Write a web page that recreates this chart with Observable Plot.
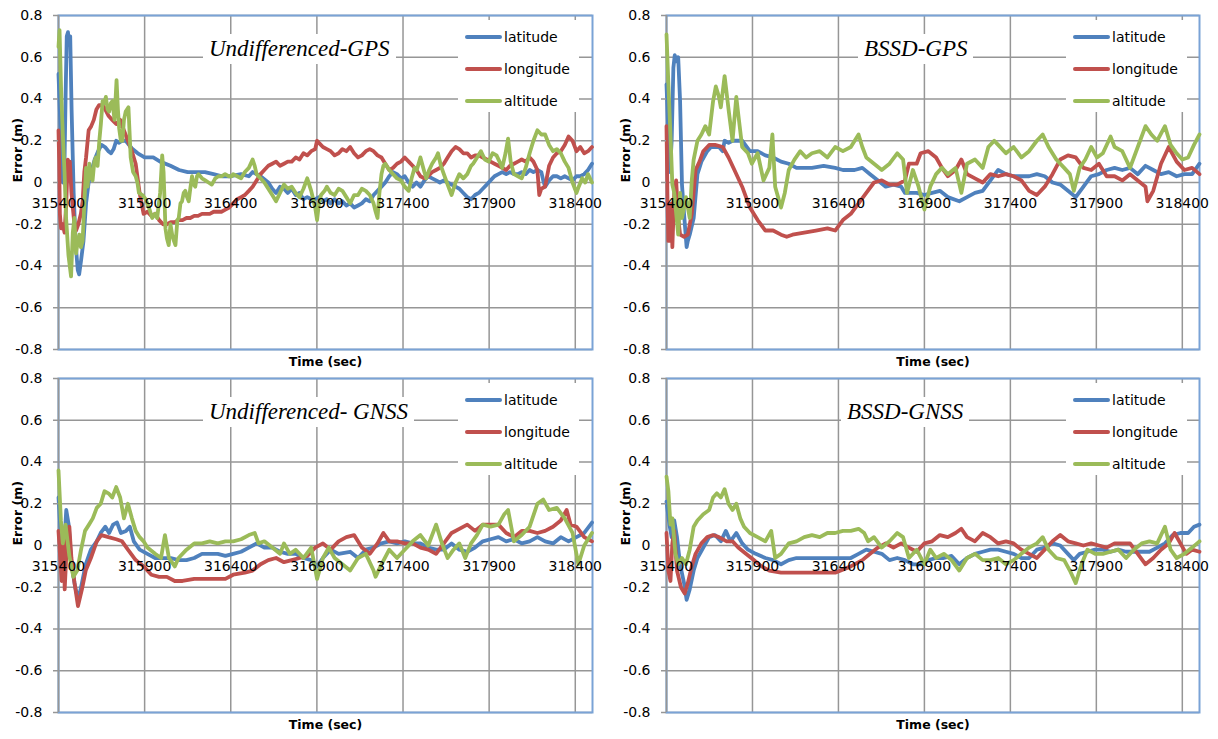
<!DOCTYPE html>
<html>
<head>
<meta charset="utf-8">
<script src="https://cdn.jsdelivr.net/npm/d3@7"></script>
<script src="https://cdn.jsdelivr.net/npm/@observablehq/plot@0.6"></script>
<style>
  html, body { margin: 0; padding: 0; background: #fff; }
  #root { position: relative; width: 1218px; height: 739px; background: #fff; overflow: hidden; }
  .panel { position: absolute; }
  .panel svg { display: block; }
  .ptitle { position: absolute; background: #fff; font-family: "Liberation Serif", serif; font-style: italic;
            font-size: 23px; line-height: 30px; height: 30px; padding: 0 6px; white-space: pre; color: #000; }
  .plegend { position: absolute; background: #fff; width: 121px; height: 92px; padding-top: 1px; box-sizing: border-box;
             font-family: "DejaVu Sans", sans-serif; font-size: 14px; color: #000; }
  .prow { height: 32px; display: flex; align-items: center; }
  .pswatch { width: 37px; height: 4px; border-radius: 2px; margin-left: 7px; margin-right: 2px; }
</style>
</head>
<body>
<div id="root"></div>
<script>
// ---------------- data ----------------
const series = ["latitude", "longitude", "altitude"];
const seriesColors = ["#4F81BD", "#C0504D", "#9BBB59"];
const titles = ["Undifferenced-GPS", "BSSD-GPS", "Undifferenced- GNSS", "BSSD-GNSS"];
const xTicks = [315400, 315900, 316400, 316900, 317400, 317900, 318400];
const yTicks = [-0.8, -0.6, -0.4, -0.2, 0, 0.2, 0.4, 0.6, 0.8];
const xDomain = [315400, 318500];
const xLabel = "Time (sec)";
const yLabel = "Error (m)";

// Undifferenced-GPS
const ugpsLat = [[315400,0.52],[315412,0.25],[315425,0.0],[315435,0.1],[315442,0.45],[315448,0.70],[315455,0.72],[315462,0.66],[315468,0.70],[315476,0.35],[315488,-0.05],[315500,-0.3],[315512,-0.42],[315520,-0.44],[315530,-0.38],[315545,-0.28],[315560,-0.1],[315575,0.0],[315590,0.05],[315610,0.11],[315630,0.15],[315650,0.18],[315670,0.17],[315690,0.15],[315705,0.14],[315720,0.16],[315735,0.2],[315750,0.19],[315770,0.2],[315790,0.2],[315810,0.18],[315830,0.16],[315860,0.14],[315900,0.12],[315950,0.12],[315990,0.1],[316050,0.08],[316100,0.06],[316150,0.05],[316200,0.05],[316250,0.05],[316300,0.04],[316350,0.03],[316400,0.03],[316460,0.04],[316505,0.03],[316527,0.05],[316573,0.03],[316618,0.0],[316641,-0.03],[316663,-0.05],[316686,-0.02],[316709,-0.03],[316731,-0.05],[316754,-0.03],[316777,-0.06],[316799,-0.05],[316822,-0.08],[316844,-0.07],[316867,-0.08],[316890,-0.08],[316912,-0.07],[316935,-0.09],[316958,-0.08],[316980,-0.1],[317003,-0.08],[317026,-0.1],[317048,-0.09],[317071,-0.11],[317093,-0.1],[317116,-0.12],[317139,-0.11],[317161,-0.1],[317184,-0.08],[317207,-0.09],[317229,-0.06],[317252,-0.04],[317275,-0.02],[317297,0.0],[317320,0.03],[317342,0.05],[317365,0.04],[317388,0.02],[317410,0.03],[317433,0.0],[317456,-0.02],[317478,0.0],[317501,-0.02],[317524,0.01],[317546,0.03],[317569,0.02],[317592,0.01],[317614,0.0],[317637,0.01],[317659,0.0],[317682,-0.01],[317705,-0.02],[317727,-0.03],[317750,-0.05],[317773,-0.07],[317795,-0.08],[317818,-0.06],[317840,-0.05],[317863,-0.03],[317886,-0.01],[317908,0.01],[317931,0.03],[317954,0.04],[317976,0.05],[317999,0.04],[318021,0.05],[318044,0.04],[318067,0.04],[318089,0.05],[318112,0.04],[318135,0.06],[318157,0.05],[318180,0.06],[318203,0.05],[318214,0.01],[318225,-0.02],[318248,0.01],[318271,0.03],[318293,0.03],[318316,0.02],[318339,0.03],[318361,0.02],[318384,0.01],[318407,0.03],[318429,0.03],[318452,0.04],[318474,0.06],[318497,0.09]];
const ugpsLon = [[315400,0.25],[315404,0.1],[315408,-0.15],[315415,-0.22],[315425,-0.2],[315435,-0.24],[315445,-0.1],[315454,0.11],[315460,0.05],[315466,0.1],[315475,-0.05],[315490,-0.18],[315502,-0.23],[315515,-0.2],[315530,-0.15],[315540,-0.09],[315550,0.05],[315560,0.12],[315575,0.25],[315590,0.27],[315605,0.3],[315620,0.35],[315635,0.37],[315650,0.37],[315665,0.36],[315690,0.32],[315712,0.3],[315735,0.28],[315758,0.3],[315780,0.25],[315803,0.2],[315826,0.15],[315848,0.09],[315871,-0.05],[315894,-0.15],[315916,-0.14],[315939,-0.16],[315961,-0.15],[315984,-0.18],[316007,-0.2],[316029,-0.2],[316052,-0.19],[316075,-0.19],[316097,-0.18],[316120,-0.18],[316143,-0.17],[316165,-0.17],[316188,-0.16],[316210,-0.16],[316233,-0.15],[316256,-0.15],[316278,-0.15],[316301,-0.14],[316324,-0.14],[316346,-0.14],[316369,-0.13],[316391,-0.12],[316414,-0.1],[316437,-0.08],[316460,-0.07],[316482,-0.06],[316505,-0.04],[316527,-0.02],[316550,0.01],[316573,0.04],[316595,0.06],[316618,0.08],[316641,0.09],[316663,0.1],[316686,0.08],[316709,0.09],[316731,0.1],[316754,0.1],[316777,0.12],[316799,0.11],[316822,0.14],[316844,0.13],[316867,0.15],[316890,0.16],[316901,0.2],[316912,0.19],[316935,0.17],[316958,0.16],[316980,0.15],[317003,0.13],[317026,0.14],[317048,0.16],[317071,0.15],[317093,0.17],[317116,0.14],[317139,0.12],[317161,0.13],[317184,0.15],[317207,0.16],[317229,0.15],[317252,0.13],[317275,0.12],[317297,0.09],[317320,0.06],[317342,0.07],[317365,0.09],[317388,0.1],[317410,0.12],[317433,0.1],[317456,0.08],[317478,0.06],[317501,0.03],[317524,0.02],[317546,0.03],[317569,0.05],[317592,0.06],[317614,0.07],[317637,0.09],[317659,0.12],[317682,0.15],[317705,0.17],[317727,0.16],[317750,0.14],[317773,0.14],[317795,0.12],[317818,0.13],[317840,0.13],[317863,0.12],[317886,0.11],[317908,0.1],[317931,0.09],[317954,0.08],[317976,0.07],[317999,0.06],[318021,0.08],[318044,0.09],[318067,0.1],[318089,0.11],[318112,0.1],[318135,0.12],[318157,0.1],[318180,0.06],[318191,-0.06],[318203,-0.03],[318225,-0.02],[318248,0.08],[318271,0.12],[318293,0.14],[318316,0.15],[318339,0.18],[318361,0.22],[318384,0.2],[318407,0.15],[318429,0.17],[318452,0.14],[318474,0.15],[318497,0.17]];
const ugpsAlt = [[315400,0.65],[315406,0.73],[315415,0.45],[315425,0.23],[315435,0.05],[315444,-0.17],[315458,-0.35],[315473,-0.45],[315483,-0.24],[315492,-0.17],[315502,-0.34],[315512,-0.28],[315521,-0.25],[315530,-0.31],[315540,-0.28],[315550,-0.1],[315560,0.07],[315569,-0.02],[315579,0.09],[315590,0.02],[315598,0.01],[315608,0.1],[315617,0.12],[315627,0.08],[315637,0.2],[315646,0.28],[315656,0.39],[315665,0.38],[315675,0.41],[315685,0.35],[315694,0.34],[315704,0.38],[315713,0.39],[315725,0.3],[315737,0.49],[315745,0.35],[315752,0.26],[315762,0.2],[315771,0.2],[315780,0.3],[315790,0.34],[315806,0.36],[315812,0.25],[315819,0.12],[315833,0.05],[315848,0.03],[315858,0.0],[315867,-0.05],[315887,-0.06],[315906,-0.08],[315925,-0.12],[315944,-0.17],[315960,-0.15],[315973,-0.17],[315990,-0.05],[316002,0.13],[316010,0.05],[316021,-0.22],[316030,-0.27],[316040,-0.3],[316050,-0.2],[316060,-0.25],[316070,-0.28],[316079,-0.3],[316090,-0.18],[316098,-0.17],[316108,-0.1],[316117,-0.09],[316127,-0.05],[316136,-0.04],[316146,-0.07],[316156,-0.09],[316165,-0.03],[316175,0.03],[316185,-0.01],[316194,-0.02],[316204,0.03],[316213,0.04],[316233,0.02],[316252,0.01],[316271,0.0],[316290,-0.01],[316310,0.02],[316329,0.03],[316348,0.03],[316367,0.04],[316387,0.03],[316406,0.03],[316414,0.04],[316437,0.03],[316460,0.02],[316482,0.05],[316505,0.07],[316527,0.11],[316539,0.08],[316550,0.04],[316573,0.02],[316595,0.0],[316618,-0.03],[316641,-0.06],[316663,-0.09],[316686,-0.05],[316709,-0.01],[316731,-0.03],[316754,-0.02],[316777,-0.05],[316799,-0.07],[316822,-0.03],[316844,0.02],[316867,-0.04],[316890,-0.12],[316901,-0.18],[316912,-0.1],[316924,-0.06],[316945,-0.04],[316958,-0.02],[316980,-0.05],[317003,-0.06],[317026,-0.03],[317048,-0.04],[317071,-0.07],[317093,-0.1],[317116,-0.06],[317139,-0.06],[317161,-0.03],[317184,-0.04],[317207,-0.06],[317229,-0.1],[317241,-0.14],[317252,-0.17],[317263,-0.05],[317275,0.04],[317286,0.08],[317297,0.09],[317320,0.06],[317342,0.04],[317365,0.02],[317388,0.01],[317410,-0.02],[317433,-0.04],[317450,0.02],[317467,0.07],[317480,0.06],[317501,0.12],[317524,0.05],[317535,0.02],[317552,0.06],[317569,0.09],[317592,0.12],[317603,0.14],[317620,0.08],[317637,0.04],[317659,-0.01],[317682,-0.06],[317705,0.0],[317727,0.04],[317750,0.02],[317773,0.04],[317795,0.08],[317807,0.09],[317830,0.12],[317852,0.15],[317875,0.11],[317897,0.1],[317920,0.14],[317943,0.13],[317960,0.1],[317976,0.07],[317995,0.14],[318010,0.21],[318025,0.1],[318044,0.04],[318067,0.03],[318089,0.02],[318112,0.07],[318135,0.14],[318157,0.2],[318180,0.25],[318203,0.23],[318225,0.23],[318248,0.18],[318271,0.15],[318293,0.16],[318316,0.14],[318339,0.1],[318361,0.07],[318384,0.0],[318407,-0.05],[318420,-0.02],[318440,0.02],[318458,0.0],[318474,0.04],[318497,0.0]];

// BSSD-GPS
const bgpsLat = [[315400,0.47],[315411,0.23],[315420,0.05],[315430,0.2],[315440,0.55],[315448,0.61],[315458,0.58],[315468,0.6],[315479,0.39],[315490,-0.01],[315502,-0.15],[315517,-0.31],[315524,-0.28],[315535,-0.25],[315558,-0.17],[315580,0.04],[315603,0.1],[315637,0.15],[315659,0.17],[315682,0.17],[315705,0.17],[315727,0.15],[315738,0.2],[315761,0.19],[315784,0.2],[315806,0.2],[315840,0.2],[315885,0.15],[315930,0.15],[315975,0.13],[316020,0.12],[316066,0.1],[316111,0.09],[316156,0.07],[316246,0.07],[316314,0.08],[316381,0.07],[316426,0.06],[316494,0.06],[316539,0.07],[316584,0.04],[316630,0.01],[316675,-0.02],[316720,-0.01],[316765,-0.02],[316787,-0.05],[316855,-0.05],[316900,-0.06],[316945,-0.05],[316990,-0.04],[317036,-0.07],[317103,-0.09],[317148,-0.07],[317194,-0.05],[317239,-0.04],[317284,0.01],[317329,0.06],[317374,0.04],[317419,0.03],[317464,0.03],[317509,0.03],[317554,0.04],[317600,0.03],[317645,0.0],[317690,-0.01],[317735,-0.04],[317780,-0.07],[317825,-0.02],[317870,0.03],[317915,0.04],[317960,0.06],[318006,0.07],[318051,0.06],[318096,0.07],[318141,0.04],[318186,0.08],[318231,0.06],[318276,0.04],[318321,0.05],[318367,0.03],[318412,0.04],[318457,0.04],[318500,0.09]];
const bgpsLon = [[315400,0.27],[315406,-0.1],[315411,-0.28],[315417,-0.28],[315423,-0.27],[315428,-0.1],[315434,-0.31],[315445,-0.05],[315456,0.01],[315468,-0.17],[315479,-0.25],[315502,-0.26],[315524,-0.25],[315547,-0.15],[315569,0.06],[315592,0.1],[315614,0.15],[315648,0.18],[315682,0.18],[315727,0.17],[315761,0.12],[315795,0.06],[315840,-0.02],[315885,-0.12],[315930,-0.18],[315975,-0.23],[316020,-0.23],[316066,-0.25],[316099,-0.26],[316133,-0.25],[316201,-0.24],[316269,-0.23],[316336,-0.22],[316381,-0.23],[316426,-0.18],[316472,-0.15],[316517,-0.1],[316562,-0.05],[316607,0.0],[316652,0.01],[316697,-0.01],[316742,-0.01],[316787,0.01],[316810,0.09],[316855,0.09],[316878,0.14],[316923,0.15],[316968,0.12],[317002,0.07],[317036,0.03],[317081,0.06],[317115,0.11],[317148,0.04],[317194,0.02],[317239,0.0],[317284,0.04],[317329,0.03],[317374,0.04],[317419,0.03],[317464,0.01],[317509,-0.04],[317554,-0.06],[317600,-0.02],[317645,0.04],[317690,0.11],[317735,0.13],[317780,0.12],[317825,0.07],[317870,0.06],[317915,0.09],[317960,0.03],[318006,0.03],[318051,0.01],[318096,0.04],[318141,0.01],[318186,-0.02],[318197,-0.09],[318231,-0.04],[318276,0.09],[318321,0.17],[318367,0.1],[318412,0.06],[318457,0.07],[318500,0.04]];
const bgpsAlt = [[315400,0.71],[315411,0.47],[315423,0.23],[315434,-0.01],[315445,-0.05],[315468,-0.25],[315479,-0.05],[315490,-0.17],[315513,-0.07],[315535,-0.17],[315547,0.01],[315558,0.11],[315580,0.2],[315603,0.23],[315626,0.27],[315648,0.23],[315671,0.39],[315687,0.46],[315705,0.41],[315716,0.36],[315738,0.51],[315761,0.35],[315784,0.2],[315806,0.41],[315817,0.33],[315840,0.17],[315874,0.14],[315896,0.09],[315930,0.14],[315964,0.01],[315998,0.07],[316016,0.23],[316032,-0.02],[316066,-0.12],[316088,-0.05],[316111,0.06],[316144,0.11],[316178,0.15],[316212,0.12],[316246,0.14],[316291,0.15],[316336,0.12],[316381,0.17],[316426,0.15],[316472,0.17],[316517,0.23],[316539,0.17],[316562,0.12],[316607,0.09],[316652,0.06],[316697,0.09],[316742,0.14],[316776,0.11],[316799,-0.05],[316833,0.06],[316866,-0.02],[316900,-0.13],[316934,-0.02],[316968,0.04],[317002,0.07],[317036,0.04],[317081,0.07],[317115,-0.05],[317148,0.09],[317194,0.11],[317239,0.07],[317272,0.17],[317306,0.2],[317329,0.18],[317374,0.14],[317419,0.17],[317464,0.12],[317509,0.15],[317554,0.2],[317588,0.23],[317622,0.17],[317667,0.11],[317713,0.07],[317746,0.04],[317769,-0.04],[317803,0.07],[317836,0.11],[317870,0.17],[317904,0.12],[317938,0.14],[317983,0.22],[318006,0.17],[318051,0.15],[318096,0.07],[318141,0.17],[318186,0.27],[318220,0.23],[318254,0.2],[318299,0.27],[318332,0.18],[318367,0.14],[318400,0.11],[318434,0.12],[318468,0.18],[318500,0.23]];

// Undifferenced-GNSS
const ugnssLat = [[315400,0.23],[315414,0.04],[315429,-0.06],[315445,0.17],[315459,0.1],[315475,-0.09],[315497,-0.2],[315515,-0.26],[315536,-0.18],[315558,-0.09],[315588,-0.02],[315622,0.02],[315645,0.06],[315672,0.09],[315694,0.06],[315717,0.1],[315740,0.11],[315762,0.06],[315792,0.07],[315814,0.09],[315837,0.02],[315871,-0.02],[315916,-0.04],[315961,-0.06],[316007,-0.06],[316052,-0.06],[316097,-0.07],[316143,-0.07],[316188,-0.06],[316233,-0.04],[316278,-0.04],[316324,-0.04],[316369,-0.05],[316414,-0.04],[316460,-0.03],[316505,-0.01],[316550,0.01],[316595,-0.01],[316641,-0.01],[316686,-0.03],[316731,-0.04],[316777,-0.04],[316822,-0.06],[316867,-0.07],[316901,-0.1],[316935,-0.06],[316980,-0.02],[317026,-0.04],[317093,-0.03],[317139,-0.06],[317184,-0.02],[317229,-0.01],[317275,0.01],[317320,0.02],[317365,0.01],[317410,0.02],[317456,0.01],[317501,0.01],[317546,-0.01],[317592,-0.02],[317637,-0.02],[317682,0.01],[317727,-0.02],[317773,-0.03],[317818,-0.01],[317863,0.02],[317908,0.03],[317954,0.04],[317999,0.02],[318044,0.03],[318089,0.01],[318135,0.02],[318180,0.04],[318225,0.02],[318271,0.01],[318316,0.04],[318361,0.02],[318407,0.04],[318452,0.06],[318497,0.11]];
const ugnssLon = [[315400,0.07],[315418,-0.17],[315429,0.04],[315436,-0.21],[315452,0.07],[315463,0.09],[315475,-0.06],[315493,-0.18],[315513,-0.29],[315536,-0.21],[315558,-0.12],[315588,-0.06],[315622,0.02],[315649,0.05],[315690,0.04],[315735,0.03],[315769,0.02],[315803,-0.02],[315848,-0.07],[315894,-0.1],[315939,-0.14],[315984,-0.15],[316029,-0.15],[316075,-0.17],[316120,-0.17],[316188,-0.16],[316256,-0.16],[316324,-0.16],[316369,-0.16],[316414,-0.14],[316482,-0.13],[316527,-0.12],[316573,-0.09],[316618,-0.07],[316663,-0.06],[316709,-0.08],[316754,-0.07],[316799,-0.06],[316844,-0.05],[316890,-0.01],[316935,0.01],[316980,-0.02],[317026,0.02],[317071,0.04],[317116,0.05],[317161,-0.01],[317207,-0.04],[317252,0.01],[317286,0.06],[317320,0.02],[317365,0.02],[317410,0.01],[317456,0.01],[317501,-0.01],[317546,-0.02],[317592,-0.04],[317637,0.01],[317682,0.06],[317727,0.08],[317773,0.1],[317818,0.07],[317863,0.1],[317908,0.1],[317954,0.1],[317999,0.06],[318044,0.04],[318089,0.07],[318135,0.07],[318180,0.06],[318225,0.07],[318271,0.09],[318316,0.12],[318350,0.17],[318373,0.1],[318407,0.09],[318452,0.04],[318497,0.02]];
const ugnssAlt = [[315400,0.36],[315414,0.12],[315425,0.01],[315441,0.1],[315463,-0.05],[315486,-0.15],[315509,-0.12],[315531,-0.02],[315554,0.07],[315577,0.1],[315599,0.13],[315622,0.18],[315645,0.2],[315667,0.26],[315690,0.25],[315712,0.23],[315735,0.28],[315758,0.23],[315780,0.13],[315803,0.2],[315826,0.13],[315848,0.07],[315871,0.04],[315894,0.02],[315916,-0.01],[315961,-0.04],[315995,-0.06],[316018,0.05],[316041,-0.06],[316075,-0.1],[316097,-0.06],[316143,-0.02],[316188,0.01],[316233,0.01],[316278,0.02],[316324,0.01],[316369,0.02],[316414,0.02],[316460,0.03],[316505,0.05],[316539,0.06],[316561,0.01],[316595,0.02],[316641,-0.01],[316686,-0.04],[316709,0.01],[316743,-0.04],[316777,-0.02],[316822,-0.06],[316867,-0.01],[316901,-0.16],[316935,-0.06],[316969,-0.01],[317003,-0.06],[317048,-0.09],[317093,-0.12],[317139,-0.06],[317184,-0.04],[317229,-0.12],[317241,-0.15],[317275,-0.09],[317320,-0.02],[317365,-0.06],[317410,-0.02],[317456,0.02],[317501,0.05],[317546,0.0],[317592,0.1],[317626,0.01],[317659,-0.06],[317693,-0.02],[317727,0.01],[317761,-0.06],[317795,0.01],[317829,0.05],[317863,0.1],[317908,0.09],[317954,0.1],[317988,0.15],[318010,0.17],[318044,0.02],[318089,0.05],[318135,0.09],[318180,0.2],[318214,0.22],[318248,0.17],[318293,0.18],[318339,0.13],[318384,0.06],[318418,-0.09],[318452,0.0],[318497,0.06]];

// BSSD-GNSS
const bgnssLat = [[315400,0.21],[315417,0.1],[315430,0.04],[315445,0.12],[315461,0.04],[315479,-0.09],[315502,-0.18],[315517,-0.26],[315535,-0.21],[315558,-0.12],[315580,-0.06],[315614,-0.01],[315648,0.04],[315682,0.05],[315716,0.02],[315745,0.07],[315772,0.02],[315806,0.06],[315840,0.01],[315874,-0.02],[315919,-0.04],[315975,-0.06],[316020,-0.07],[316066,-0.09],[316111,-0.07],[316156,-0.06],[316201,-0.06],[316246,-0.06],[316291,-0.06],[316336,-0.06],[316381,-0.06],[316426,-0.06],[316472,-0.06],[316517,-0.04],[316562,-0.02],[316607,-0.03],[316652,-0.04],[316697,-0.07],[316742,-0.06],[316787,-0.07],[316833,-0.09],[316878,-0.09],[316923,-0.07],[316968,-0.06],[317013,-0.06],[317058,-0.05],[317103,-0.09],[317148,-0.06],[317194,-0.04],[317239,-0.03],[317284,-0.02],[317329,-0.02],[317374,-0.03],[317419,-0.04],[317464,-0.06],[317509,-0.06],[317554,-0.02],[317600,-0.01],[317645,0.01],[317690,0.0],[317735,-0.04],[317769,-0.07],[317803,-0.04],[317848,-0.03],[317893,-0.02],[317938,-0.02],[317983,-0.03],[318028,-0.02],[318073,-0.03],[318118,-0.03],[318164,-0.03],[318209,-0.03],[318254,-0.01],[318299,0.01],[318344,0.05],[318389,0.06],[318434,0.06],[318468,0.09],[318500,0.1]];
const bgnssLon = [[315400,0.06],[315411,-0.12],[315423,-0.17],[315434,0.01],[315445,0.07],[315461,-0.12],[315484,-0.2],[315506,-0.23],[315524,-0.18],[315547,-0.1],[315569,-0.04],[315603,0.01],[315637,0.04],[315671,0.05],[315705,0.04],[315750,0.02],[315784,0.02],[315817,-0.01],[315862,-0.04],[315908,-0.07],[315953,-0.1],[315998,-0.12],[316066,-0.13],[316133,-0.13],[316201,-0.13],[316291,-0.13],[316381,-0.13],[316472,-0.1],[316539,-0.07],[316584,-0.04],[316630,-0.01],[316675,0.01],[316720,-0.01],[316765,0.01],[316810,-0.01],[316855,-0.03],[316900,0.01],[316945,0.02],[316990,0.05],[317036,0.04],[317081,0.06],[317115,0.08],[317148,0.04],[317194,0.02],[317239,0.06],[317284,0.04],[317329,0.01],[317374,0.02],[317419,0.01],[317464,-0.02],[317509,-0.04],[317554,-0.06],[317600,-0.02],[317645,0.02],[317690,0.05],[317735,0.02],[317780,0.01],[317825,0.0],[317870,0.01],[317915,0.0],[317960,-0.01],[318006,0.01],[318051,0.01],[318096,0.01],[318141,-0.04],[318186,-0.09],[318231,-0.06],[318276,-0.02],[318321,0.01],[318355,0.06],[318389,0.01],[318423,-0.04],[318457,-0.02],[318500,-0.03]];
const bgnssAlt = [[315400,0.33],[315411,0.26],[315423,0.1],[315434,0.13],[315452,-0.04],[315468,-0.09],[315490,-0.06],[315513,-0.09],[315535,-0.02],[315558,0.09],[315580,0.12],[315614,0.15],[315648,0.17],[315671,0.23],[315693,0.25],[315716,0.23],[315738,0.27],[315761,0.2],[315784,0.17],[315806,0.2],[315829,0.13],[315851,0.09],[315885,0.06],[315930,0.04],[315975,0.02],[316009,0.07],[316032,-0.06],[316066,-0.04],[316111,0.01],[316156,0.02],[316201,0.04],[316246,0.05],[316291,0.04],[316336,0.06],[316381,0.06],[316426,0.07],[316472,0.07],[316517,0.08],[316550,0.06],[316573,0.02],[316607,0.04],[316652,-0.01],[316697,0.02],[316742,0.06],[316776,0.04],[316810,-0.06],[316855,-0.02],[316900,-0.09],[316934,-0.02],[316968,-0.06],[317013,-0.04],[317058,-0.07],[317103,-0.12],[317148,-0.06],[317194,-0.04],[317239,-0.07],[317284,-0.07],[317329,-0.06],[317374,-0.09],[317419,-0.07],[317464,-0.04],[317509,-0.01],[317554,0.01],[317588,0.04],[317622,-0.02],[317667,-0.06],[317713,-0.07],[317746,-0.12],[317780,-0.18],[317814,-0.09],[317848,-0.02],[317893,-0.04],[317938,-0.04],[317983,-0.03],[318028,-0.02],[318073,-0.06],[318118,-0.02],[318164,0.01],[318209,0.02],[318254,0.01],[318299,0.09],[318332,-0.02],[318367,-0.06],[318412,-0.04],[318457,-0.01],[318500,0.02]];

const panelSeries = [
  [ugpsLat, ugpsLon, ugpsAlt],
  [bgpsLat, bgpsLon, bgpsAlt],
  [ugnssLat, ugnssLon, ugnssAlt],
  [bgnssLat, bgnssLon, bgnssAlt]
];

// ---------------- layout ----------------
const layout = [
  {left: 0,   top: 0,   height: 369, mt: 15, mb: 20, ml: 58, mr: 17, titleLeft: 203},
  {left: 609, top: 0,   height: 369, mt: 15, mb: 20, ml: 57, mr: 19, titleLeft: 249},
  {left: 0,   top: 369, height: 370, mt: 9,  mb: 27, ml: 58, mr: 17, titleLeft: 203},
  {left: 609, top: 369, height: 370, mt: 9,  mb: 27, ml: 57, mr: 19, titleLeft: 232}
];

const root = document.getElementById("root");
const grey = "#969696";
const fmt = d => d === 0 ? "0" : d.toFixed(1);

layout.forEach((L, i) => {
  const data = [];
  panelSeries[i].forEach((arr, k) => arr.forEach(([t, v]) => data.push({t, v, s: series[k]})));

  const chart = Plot.plot({
    width: 609,
    height: L.height,
    marginTop: L.mt, marginBottom: L.mb, marginLeft: L.ml, marginRight: L.mr,
    style: {fontFamily: "DejaVu Sans, sans-serif", fontSize: "14px", background: "#fff", color: "#000", overflow: "visible"},
    x: {domain: xDomain, axis: null},
    y: {domain: [-0.8, 0.8]},
    color: {domain: series, range: seriesColors},
    marks: [
      Plot.gridX(xTicks, {stroke: grey, strokeOpacity: 1, strokeWidth: 1.5}),
      Plot.gridY(yTicks, {stroke: grey, strokeOpacity: 1, strokeWidth: 1.5}),
      Plot.frame({stroke: "#7aa3d6", strokeWidth: 2}),
      Plot.ruleX([xDomain[0]], {stroke: grey, strokeWidth: 1.5}),
      Plot.line(data, {x: "t", y: "v", z: "s", stroke: "s", strokeWidth: 3.8, strokeLinejoin: "round", strokeLinecap: "round"}),
      Plot.axisY({ticks: yTicks, tickSize: 5, tickFormat: () => "", stroke: grey, strokeWidth: 1.5, label: null}),
      Plot.text(yTicks, {frameAnchor: "left", y: d => d, dx: -16, textAnchor: "end", text: fmt, fill: "#000", fontSize: 14}),
      Plot.text(xTicks, {x: d => d, y: 0, dy: 21, text: d => String(d), fill: "#000", fontSize: 14, lineAnchor: "middle"}),
      Plot.text([xLabel], {frameAnchor: "bottom", dy: 12, lineAnchor: "middle", fontWeight: "bold", fontSize: 12.5, fill: "#000"}),
      Plot.text([yLabel], {frameAnchor: "left", dx: -41, rotate: -90, fontWeight: "bold", fontSize: 12.5, fill: "#000"})
    ]
  });

  const wrap = document.createElement("div");
  wrap.className = "panel";
  wrap.style.left = L.left + "px";
  wrap.style.top = L.top + "px";
  wrap.style.width = "609px";
  wrap.style.height = L.height + "px";
  wrap.appendChild(chart);

  const title = document.createElement("div");
  title.className = "ptitle";
  title.textContent = titles[i];
  title.style.left = L.titleLeft + "px";
  title.style.top = (L.mt + 19) + "px";
  wrap.appendChild(title);

  const legend = document.createElement("div");
  legend.className = "plegend";
  legend.style.left = (L.ml + 400) + "px";
  legend.style.top = (L.mt + 5) + "px";
  series.forEach((s, k) => {
    const row = document.createElement("div");
    row.className = "prow";
    const sw = document.createElement("span");
    sw.className = "pswatch";
    sw.style.background = seriesColors[k];
    const tx = document.createElement("span");
    tx.textContent = s;
    row.appendChild(sw);
    row.appendChild(tx);
    legend.appendChild(row);
  });
  wrap.appendChild(legend);

  root.appendChild(wrap);
});
</script>
</body>
</html>
